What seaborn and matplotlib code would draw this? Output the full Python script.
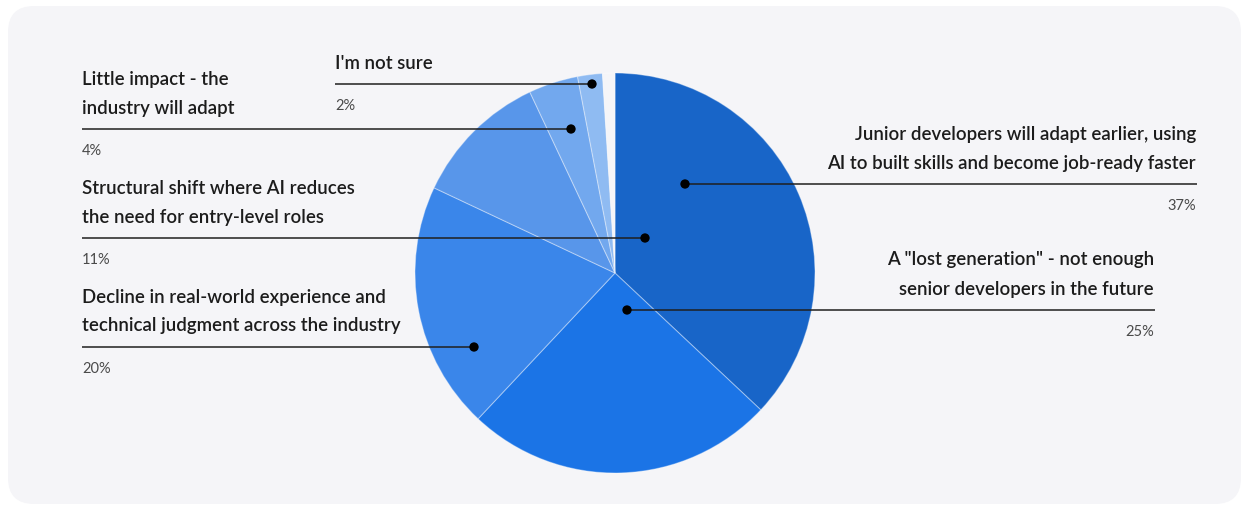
import matplotlib
matplotlib.use("Agg")
import matplotlib.pyplot as plt
from matplotlib.patches import FancyBboxPatch
import seaborn as sns
import pandas as pd

# ---- data ----
answers = [
    "Junior developers will adapt earlier, using\nAI to built skills and become job-ready faster",
    'A "lost generation" - not enough\nsenior developers in the future',
    "Decline in real-world experience and\ntechnical judgment across the industry",
    "Structural shift where AI reduces\nthe need for entry-level roles",
    "Little impact - the\nindustry will adapt",
    "I'm not sure",
]
shares = [37, 25, 20, 11, 4, 2]
unanswered = 1  # blank wedge at 12 o'clock
slice_colors = ["#1865c8", "#1b74e6", "#3a86ea", "#5896ea", "#72a8ee", "#8fbbf2"]

# ---- layout (pixel space, y down) ----
bg = "#f5f5f8"
pie_center = (615, 274)
pie_radius = 200
# side, text x, leader y, anchor (x, y)
callouts = [
    ("right", 1196, 185, (685, 185)),
    ("right", 1154, 311, (627, 311)),
    ("left", 82, 348, (474, 348)),
    ("left", 82, 239, (645, 239)),
    ("left", 82, 130, (571, 130)),
    ("left", 335, 85, (592, 85)),
]

sns.set_theme(style="white")
plt.rcParams["font.family"] = ["Lato", "DejaVu Sans"]

fig = plt.figure(figsize=(12.42, 5.06), dpi=100, facecolor="white")
ax = fig.add_axes([0, 0, 1, 1])

ax.add_patch(FancyBboxPatch((8, 7), 1233, 498,
                            boxstyle="round,pad=0,rounding_size=26",
                            facecolor=bg, edgecolor="none", zorder=0))

ax.pie(shares + [unanswered], colors=slice_colors + [bg],
       startangle=-90, counterclock=True,
       center=pie_center, radius=pie_radius,
       wedgeprops=dict(linewidth=0.8, edgecolor=(1, 1, 1, 0.35)),
       frame=False)

dots = pd.DataFrame({"x": [c[3][0] for c in callouts],
                     "y": [c[3][1] for c in callouts]})

for text, pct, (side, tx, ly, (axx, ayy)) in zip(answers, shares, callouts):
    lines = text.split("\n")
    ha = "left" if side == "left" else "right"
    # text lines stacked above the leader
    for i, line in enumerate(reversed(lines)):
        ax.text(tx, ly - 22 - 29 * i, line, ha=ha, va="center",
                fontsize=13.4, fontweight="semibold", color="#1c1c1c", zorder=5)
    ax.text(tx, ly + 21, f"{pct}%", ha=ha, va="center",
            fontsize=10.5, color="#4a4a4a", zorder=5)
    if side == "left":
        x0, x1 = tx, axx
    else:
        x0, x1 = axx, tx + 1
    ax.plot([x0, x1], [ly, ly], color="#1f1f1f", lw=1.1,
            solid_capstyle="butt", zorder=4)

sns.scatterplot(data=dots, x="x", y="y", ax=ax, color="black", s=45,
                edgecolor="none", zorder=6, legend=False)
ax.set_xlim(0, 1242)
ax.set_ylim(506, 0)
ax.set_aspect("equal")
ax.axis("off")

fig.savefig("out.png", dpi=100, facecolor="white")
